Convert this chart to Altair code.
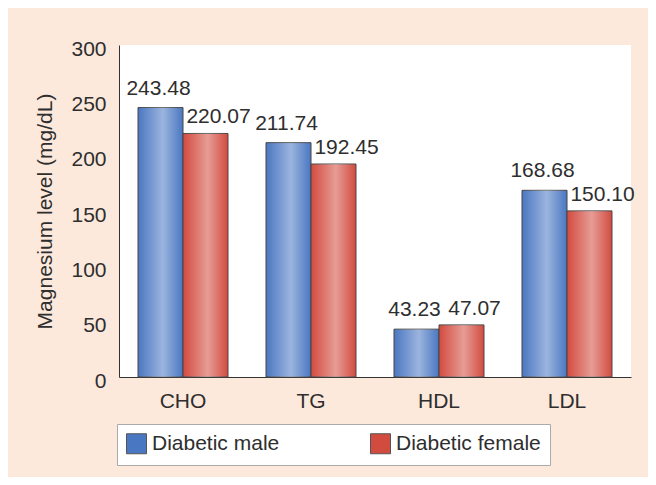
import altair as alt
import pandas as pd

categories = ["CHO", "TG", "HDL", "LDL"]
series = ["Diabetic male", "Diabetic female"]
male = [243.48, 211.74, 43.23, 168.68]
female = [220.07, 192.45, 47.07, 150.10]
y_ticks = [0, 50, 100, 150, 200, 250, 300]

rows = []
for c, m, f in zip(categories, male, female):
    rows.append({"category": c, "series": series[0], "value": m})
    rows.append({"category": c, "series": series[1], "value": f})
df = pd.DataFrame(rows)

FONT = "Liberation Sans"
TXT = "#2e2e2e"
FS = 21

x = alt.X(
    "category:N", sort=categories,
    scale=alt.Scale(paddingInner=0.297, paddingOuter=0.1485),
    axis=alt.Axis(title=None, labelAngle=0, ticks=False, labelPadding=13,
                  labelFontSize=FS, labelFont=FONT, labelColor=TXT,
                  domainColor="#333333", domainWidth=1),
)
xo = alt.XOffset("series:N", sort=series, scale=alt.Scale(paddingInner=0, paddingOuter=0))
y = alt.Y(
    "value:Q",
    scale=alt.Scale(domain=[0, 300], nice=False),
    axis=alt.Axis(values=y_ticks, title="Magnesium level (mg/dL)", ticks=False, grid=False,
                  labelPadding=13, labelOffset=4, labelFontSize=FS, labelFont=FONT, labelColor=TXT,
                  titleFontSize=FS, titleFont=FONT, titleColor=TXT, titleFontWeight="normal",
                  titlePadding=15, domainColor="#333333", domainWidth=1),
)

base = alt.Chart(df).encode(x=x, xOffset=xo, y=y)

bars = base.mark_bar(stroke="#444444", strokeWidth=1).encode(
    color=alt.Color(
        "series:N", sort=series,
        scale=alt.Scale(domain=series, range=["#4a77c2", "#d24b3f"]),
        legend=alt.Legend(
            title=None, orient="none", legendX=-2, legendY=379, direction="horizontal",
            symbolType="square", symbolSize=400, symbolStrokeColor="#555555", symbolStrokeWidth=1,
            labelFontSize=FS, labelFont=FONT, labelColor=TXT, labelOffset=5,
            columnPadding=88, padding=9, fillColor="white", strokeColor="#aaaaaa",
        ),
    )
)

shine = base.mark_bar(
    color=alt.Gradient(
        gradient="linear", x1=0, y1=0, x2=1, y2=0,
        stops=[
            alt.GradientStop(offset=0, color="rgba(255,255,255,0)"),
            alt.GradientStop(offset=0.55, color="rgba(255,255,255,0.45)"),
            alt.GradientStop(offset=1, color="rgba(255,255,255,0)"),
        ],
    )
)

male_txt = base.transform_filter(alt.datum.series == series[0]).mark_text(
    dx=-2, dy=-9, baseline="bottom", fontSize=FS, font=FONT, color=TXT
).encode(text=alt.Text("value:Q", format=".2f"))

female_txt = base.transform_filter(alt.datum.series == series[1]).mark_text(
    dx=13, dy=-6, baseline="bottom", fontSize=FS, font=FONT, color=TXT
).encode(text=alt.Text("value:Q", format=".2f"))

chart = alt.layer(bars, shine, male_txt, female_txt).properties(
    width=512, height=332,
    autosize=alt.AutoSizeParams(type="none"),
    padding={"left": 111, "top": 37, "right": 17, "bottom": 100},
    background="#fde9dc",
).configure_view(fill="white", strokeWidth=0)

chart.save("out.html", embed_options={"renderer": "svg", "actions": False})
